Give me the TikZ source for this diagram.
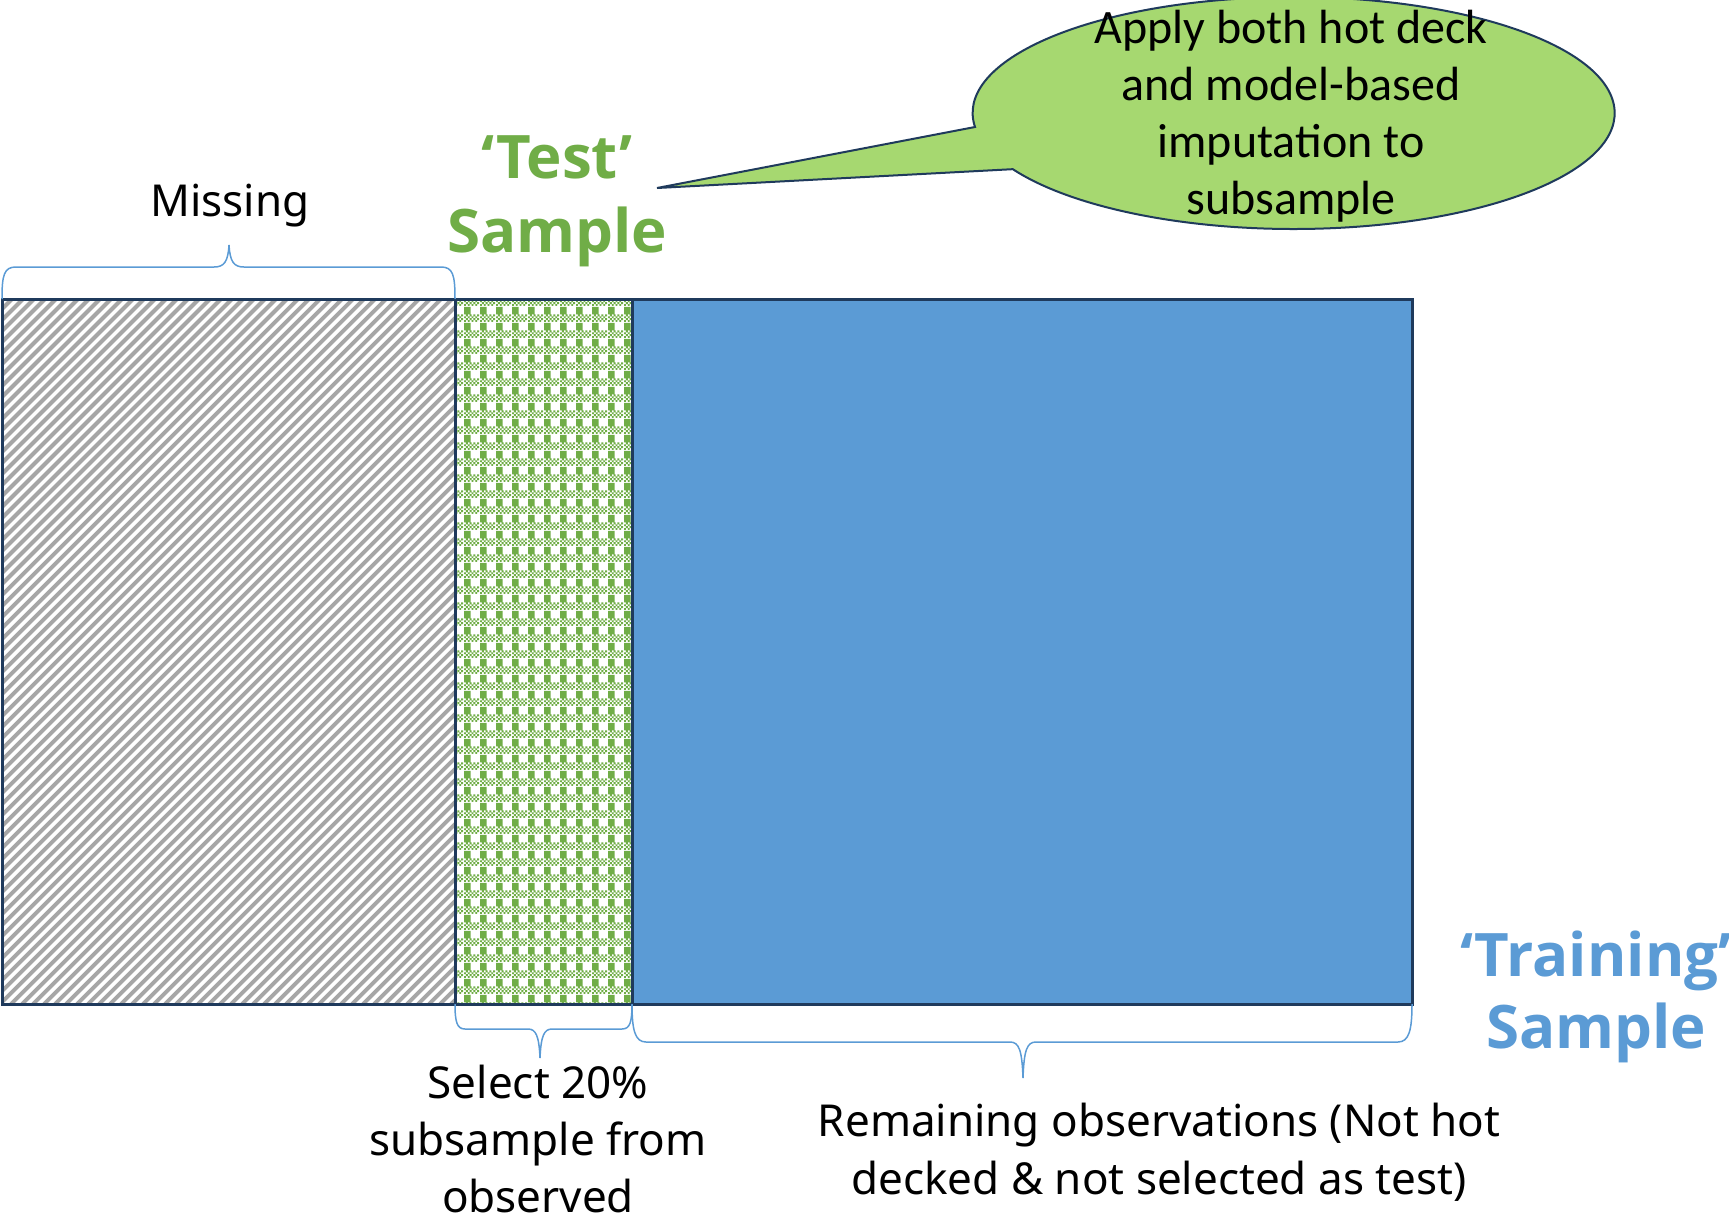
\documentclass[tikz,border=0pt]{standalone}
\usepackage{fontspec}
\setmainfont{Noto Sans}
\newfontfamily\calibrifont{Carlito}
\newfontfamily\headfont{Open Sans}
\usetikzlibrary{patterns,patterns.meta}

\definecolor{navy}{HTML}{1F3A5C}
\definecolor{hatchgray}{HTML}{A6A6A6}
\definecolor{testgreen}{HTML}{70AD47}
\definecolor{trainblue}{HTML}{5B9BD5}
\definecolor{calloutgreen}{HTML}{A6D870}
\definecolor{bracecol}{HTML}{5B9BD5}

\newcommand\pcell[2]{\pgfpathrectangle{\pgfqpoint{#1pt}{#2pt}}{\pgfqpoint{2pt}{2pt}}}
\pgfdeclarepatternformonly{greenplaid}{\pgfqpoint{0pt}{0pt}}{\pgfqpoint{16pt}{16pt}}{\pgfqpoint{16pt}{16pt}}{%
  \pgfpathrectangle{\pgfqpoint{0pt}{8pt}}{\pgfqpoint{7pt}{8pt}}%
  \pcell{0}{0}\pcell{4}{0}\pcell{8}{0}\pcell{12}{0}%
  \pcell{2}{2}\pcell{6}{2}\pcell{10}{2}\pcell{14}{2}%
  \pcell{0}{4}\pcell{4}{4}\pcell{8}{4}\pcell{12}{4}%
  \pcell{2}{6}\pcell{6}{6}\pcell{10}{6}\pcell{14}{6}%
  \pgfusepath{fill}}

\tikzset{
  frame/.style={draw=navy, line width=3pt},
  bracepath/.style={draw=bracecol, line width=1.5pt},
  hatchline/.style={draw=hatchgray, line width=3.9pt},
  lbl/.style={font=\fontsize{44}{53}\selectfont, anchor=base, inner sep=0pt},
  bigtxt/.style={font=\headfont\bfseries\fontsize{60}{72}\selectfont, anchor=base, inner sep=0pt},
  calltxt/.style={font=\calibrifont\fontsize{48}{58}\selectfont, anchor=base, inner sep=0pt},
  callout/.style={draw=navy, line width=2pt, fill=calloutgreen},
}

\begin{document}
\begin{tikzpicture}[x=1pt,y=-1pt]
\useasboundingbox (0,0) rectangle (1729,1218);

% rectangle corners
\coordinate (tl) at (2,299);
\coordinate (m1) at (455,299);
\coordinate (m2) at (632,299);
\coordinate (tr) at (1412,299);
\coordinate (bl) at (2,1004);
\coordinate (b1) at (455,1004);
\coordinate (b2) at (632,1004);
\coordinate (br) at (1412,1004);

% fills
\begin{scope}
  \clip (tl) rectangle (b1);
  \foreach \k in {-65,...,42} {
    \draw[hatchline] (\k*11,1004) -- (\k*11+705,299);
  }
\end{scope}
\fill[pattern=greenplaid, pattern color=testgreen] (m1) rectangle (b2);
\fill[trainblue] (m2) rectangle (br);
\draw[frame] (tl) rectangle (br);
\draw[frame] (m1) -- (b1);
\draw[frame] (m2) -- (b2);

% braces
\coordinate (tipM) at (229,245);
\draw[bracepath] (tl) .. controls (2,275) and (4,267) .. (16,267) -- (214,267)
  .. controls (224,267) and (228,262) .. (tipM)
  .. controls (230,262) and (234,267) .. (244,267) -- (441,267)
  .. controls (453,267) and (455,275) .. (m1);
\coordinate (tipT) at (540,1058);
\draw[bracepath] (b1) .. controls (455,1022) and (457,1029) .. (465,1029) -- (528,1029)
  .. controls (536,1029) and (539,1036) .. (tipT)
  .. controls (541,1036) and (544,1029) .. (552,1029) -- (622,1029)
  .. controls (630,1029) and (632,1022) .. (b2);
\coordinate (tipR) at (1023,1078);
\draw[bracepath] (b2) .. controls (632,1030) and (635,1042) .. (646,1042) -- (1010,1042)
  .. controls (1019,1042) and (1022,1050) .. (tipR)
  .. controls (1024,1050) and (1027,1042) .. (1036,1042) -- (1398,1042)
  .. controls (1409,1042) and (1412,1030) .. (br);

% callout
\coordinate (ctip) at (657,188);
\draw[callout] (975,127) arc[start angle=173.07, end angle=511.04, x radius=321, y radius=116] -- (ctip) -- cycle;
\node[calltxt] (c1) at (1291,43) {Apply both hot deck};
\node[calltxt] (c2) at (1291,100) {and model-based};
\node[calltxt] (c3) at (1291,157) {imputation to};
\node[calltxt] (c4) at (1291,214) {subsample};

% labels
\node[lbl] (miss) at (230,216) {Missing};
\node[bigtxt, text=testgreen] (test1) at (557,178) {‘Test’};
\node[bigtxt, text=testgreen] (test2) at (557,252) {Sample};
\node[bigtxt, text=trainblue] (train1) at (1596,976) {‘Training’};
\node[bigtxt, text=trainblue] (train2) at (1596,1048) {Sample};
\node[lbl] (sel1) at (538,1098) {Select 20\%};
\node[lbl] (sel2) at (538,1155) {subsample from};
\node[lbl] (sel3) at (538,1212) {observed};
\node[lbl] (rem1) at (1159,1136) {Remaining observations (Not hot};
\node[lbl] (rem2) at (1159,1194) {decked \& not selected as test)};
\end{tikzpicture}
\end{document}
